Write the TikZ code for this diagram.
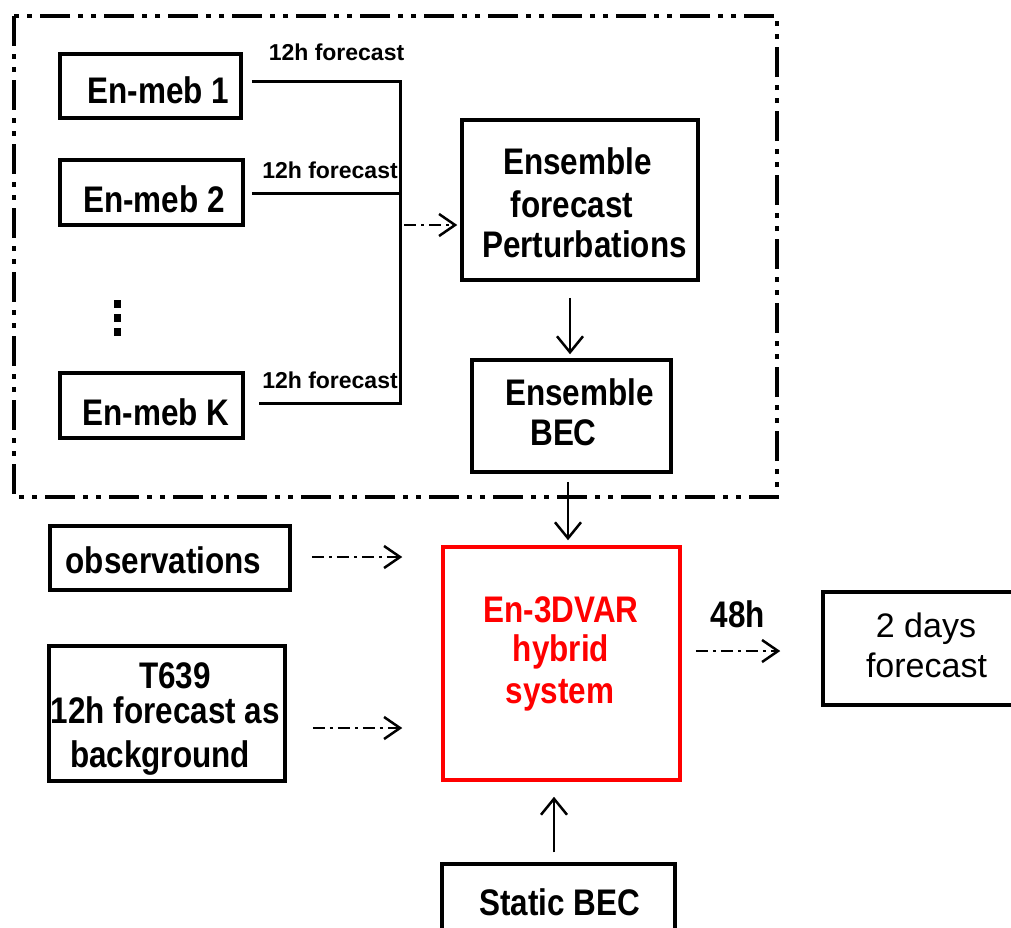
\documentclass[tikz,border=0pt]{standalone}
\usepackage{fontspec}
\setmainfont{Liberation Sans}
\newfontfamily\condfont[FakeStretch=0.85]{Liberation Sans}
\usetikzlibrary{arrows.meta,calc}
\tikzset{
  box/.style={draw=black, line width=3.5pt, inner sep=0pt},
  redbox/.style={draw=red, line width=3.5pt, inner sep=0pt},
  big/.style={font=\condfont\bfseries\fontsize{37}{42}\selectfont, inner sep=0pt, anchor=base, text=black},
  bigred/.style={big, text=red},
  plain/.style={font=\fontsize{34}{40}\selectfont, inner sep=0pt, anchor=base, text=black},
  small/.style={font=\bfseries\fontsize{23}{26}\selectfont, inner sep=0pt, anchor=base, text=black},
  conn/.style={line width=3pt, line join=miter},
  arr/.style={line width=2.5pt, -{Straight Barb[length=16pt,width=26pt,line width=2.5pt]}},
  darr/.style={line width=2.5pt, dash pattern=on 12pt off 5pt on 3pt off 5pt, -{Straight Barb[length=16pt,width=22pt,line width=2.5pt]}},
  frame/.style={line width=4pt, dash pattern=on 30pt off 8pt on 5pt off 8pt on 5pt off 8pt}
}
\begin{document}
\begin{tikzpicture}[x=1pt,y=-1pt]
\clip (0,0) rectangle (1011,927);
\fill[white] (0,0) rectangle (1011,927);
% frame
\draw[frame] (14,16) rectangle (777,497);
% boxes
\node[box, minimum width=181pt, minimum height=64pt] (m1) at (150.5,86) {};
\node[box, minimum width=183pt, minimum height=65pt] (m2) at (151.5,192.5) {};
\node[box, minimum width=183pt, minimum height=65pt] (mK) at (151.5,405.5) {};
\node[box, minimum width=236pt, minimum height=160pt] (ens) at (580,200) {};
\node[box, minimum width=199pt, minimum height=112pt] (bec) at (571.5,416) {};
\node[box, minimum width=240pt, minimum height=64pt] (obs) at (170,558) {};
\node[box, minimum width=236pt, minimum height=135pt] (t639) at (167,713.5) {};
\node[redbox, minimum width=237pt, minimum height=233pt] (red) at (561.5,663.5) {};
\node[box, minimum width=217pt, minimum height=113pt] (two) at (931.5,648.5) {};
\node[box, minimum width=233pt, minimum height=80pt] (stat) at (558.5,904) {};
% texts
\node[big] (m1t) at (158.5,103) {En-meb 1};
\node[big] (m2t) at (154,212) {En-meb 2};
\node[big] (mKt) at (156,425) {En-meb K};
\node[big] (ens1) at (577.5,174) {Ensemble};
\node[big] (ens2) at (572,217) {forecast};
\node[big] (ens3) at (584.5,257) {Perturbations};
\node[big] (bec1) at (579.5,405) {Ensemble};
\node[big] (bec2) at (563.5,445) {BEC};
\node[big] (obst) at (163.5,573) {observations};
\node[big] (t1) at (175,688) {T639};
\node[big] (t2) at (165.5,723) {12h forecast as};
\node[big] (t3) at (160,767) {background};
\node[bigred] (r1) at (561,622) {En-3DVAR};
\node[bigred] (r2) at (561,661) {hybrid};
\node[bigred] (r3) at (560,703) {system};
\node[big] (h48) at (738,627) {48h};
\node[big] (statt) at (559.5,915) {Static BEC};
\node[plain] (two1) at (926,637) {2 days};
\node[plain] (two2) at (926.5,677) {forecast};
\node[small] (f1) at (336.5,60) {12h forecast};
\node[small] (f2) at (330,178) {12h forecast};
\node[small] (fK) at (330,388) {12h forecast};
% vertical dots
\fill (113.5,300) rectangle (120.5,308);
\fill (113.5,314) rectangle (120.5,322);
\fill (113.5,328) rectangle (120.5,336);
% collecting connectors
\coordinate (j1) at (400,81);
\coordinate (j2) at (400,193);
\coordinate (jK) at (400,403);
\coordinate (jd) at (404,225);
\draw[conn] ($(m1.east |- j1)+(9,0)$) -- (j1) -- (jK) -- ($(mK.east |- jK)+(14,0)$);
\draw[conn] ($(m2.east |- j2)+(7,0)$) -- (j2);
\draw[darr] (jd) -- ($(ens.west |- jd)+(-3,0)$);
% solid arrows
\draw[arr] ($(ens.south)+(-10,16)$) -- ($(bec.north)+(-1.5,-4)$);
\draw[arr] ($(bec.south)+(-3.5,8)$) -- ($(red.north)+(6.5,-5)$);
\draw[arr] ($(stat.north)+(-4.5,-10)$) -- ($(red.south)+(-7.5,15)$);
% dashed arrows
\draw[darr] ($(obs.east)+(20,-1)$) -- ($(red.west |- obs.east)+(-39,-1)$);
\draw[darr] ($(t639.east)+(26,14.5)$) -- ($(red.west |- t639.east)+(-39,14.5)$);
\draw[darr] ($(red.east)+(14,-12.5)$) -- ($(two.west |- red.east)+(-41,-12.5)$);
\end{tikzpicture}
\end{document}
